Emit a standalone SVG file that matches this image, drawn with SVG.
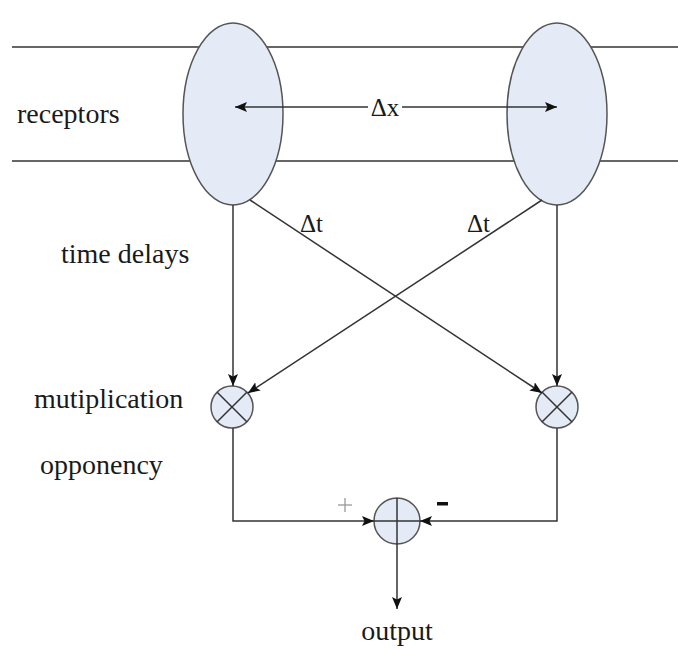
<svg xmlns="http://www.w3.org/2000/svg" width="678" height="653" viewBox="0 0 678 653">
  <style>
    text { font-family: "Liberation Serif", "DejaVu Serif", "Noto Serif", serif; fill: #1a1a1a; }
    .lbl { font-size: 28px; }
    .ln { stroke: #333; stroke-width: 1.5; fill: none; }
    .node { fill: #e5ebf6; stroke: #555; stroke-width: 1.5; }
    .op { stroke: #333; stroke-width: 1.5; }
  </style>
  <defs>
    <marker id="arr" viewBox="0 0 12 10" refX="12" refY="5" markerWidth="12" markerHeight="10" markerUnits="userSpaceOnUse" orient="auto-start-reverse">
      <path d="M0,0 L12,5 L0,10 L2.5,5 z" fill="#111"/>
    </marker>
  </defs>
  <rect width="678" height="653" fill="#fff"/>

  <!-- receptor band -->
  <g id="band">
    <line class="ln" x1="12" y1="47" x2="678" y2="47"/>
    <line class="ln" x1="12" y1="161" x2="678" y2="161"/>
  </g>

  <!-- row labels -->
  <g id="labels">
    <text class="lbl" x="17" y="123">receptors</text>
    <text class="lbl" x="61" y="263">time delays</text>
    <text class="lbl" x="34" y="408">mutiplication</text>
    <text class="lbl" x="40" y="474">opponency</text>
  </g>

  <!-- receptors -->
  <g id="receptor-left">
    <ellipse class="node" cx="233" cy="114" rx="50" ry="91"/>
  </g>
  <g id="receptor-right">
    <ellipse class="node" cx="557" cy="114" rx="50" ry="91"/>
  </g>

  <!-- multipliers -->
  <g id="mult-left">
    <circle class="node" cx="232" cy="407" r="21"/>
    <line class="op" x1="217.2" y1="392.2" x2="246.8" y2="421.8"/>
    <line class="op" x1="246.8" y1="392.2" x2="217.2" y2="421.8"/>
  </g>
  <g id="mult-right">
    <circle class="node" cx="557" cy="407" r="21"/>
    <line class="op" x1="542.2" y1="392.2" x2="571.8" y2="421.8"/>
    <line class="op" x1="571.8" y1="392.2" x2="542.2" y2="421.8"/>
  </g>

  <!-- summing junction -->
  <g id="sum">
    <circle class="node" cx="397" cy="521" r="23"/>
    <line class="op" x1="374" y1="521" x2="420" y2="521"/>
    <line class="op" x1="397" y1="498" x2="397" y2="544"/>
  </g>

  <!-- connectors -->
  <g id="connectors">
    <line class="ln" x1="235" y1="107" x2="368" y2="107" marker-start="url(#arr)"/>
    <line class="ln" x1="402" y1="107" x2="557" y2="107" marker-end="url(#arr)"/>
    <line class="ln" x1="233" y1="205" x2="233" y2="386" marker-end="url(#arr)"/>
    <line class="ln" x1="557" y1="205" x2="557" y2="386" marker-end="url(#arr)"/>
    <line class="ln" x1="250" y1="200" x2="542" y2="393" marker-end="url(#arr)"/>
    <line class="ln" x1="542" y1="200" x2="248" y2="393" marker-end="url(#arr)"/>
    <path class="ln" d="M233,428 V521 H374" marker-end="url(#arr)"/>
    <path class="ln" d="M557,428 V521 H420" marker-end="url(#arr)"/>
    <line class="ln" x1="397" y1="544" x2="397" y2="609" marker-end="url(#arr)"/>
  </g>

  <!-- connector labels -->
  <g id="connector-labels">
    <text x="385" y="116" text-anchor="middle" font-size="25">Δx</text>
    <text x="300" y="232" font-size="25">Δt</text>
    <text x="467" y="232" font-size="25">Δt</text>
    <g id="plus" stroke="#999" stroke-width="1.3">
      <line x1="338" y1="505" x2="352" y2="505"/>
      <line x1="345" y1="498" x2="345" y2="512"/>
    </g>
    <rect x="437" y="502" width="11" height="3.5" fill="#111"/>
    <text class="lbl" x="397" y="640" text-anchor="middle">output</text>
  </g>
</svg>
